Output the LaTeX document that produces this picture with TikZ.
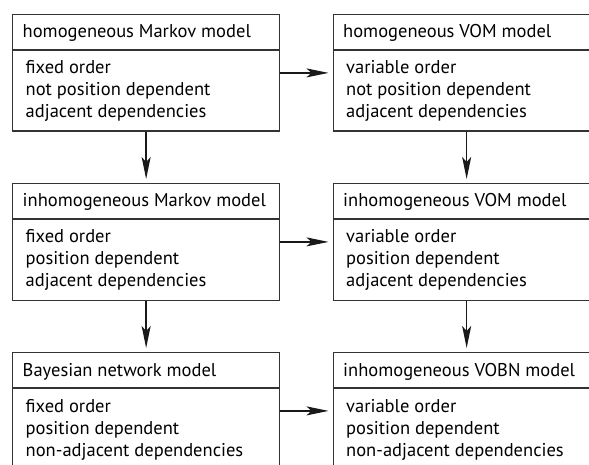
\documentclass[tikz,border=0pt]{standalone}
\usepackage{fontspec}
\setmainfont{PT Sans}
\usetikzlibrary{arrows.meta}
\tikzset{
  modelbox/.style={draw=black!80, line width=1.3pt, rectangle, minimum width=267pt, minimum height=116.5pt, inner sep=0pt, anchor=north west},
  divider/.style={draw=black!80, line width=1.3pt},
  titletext/.style={anchor=base west, inner sep=0pt, font=\fontsize{18.5}{22}\selectfont},
  bodytext/.style={anchor=base west, inner sep=0pt, font=\fontsize{18.5}{22}\selectfont},
  flow/.style={draw=black!90, line width=1.5pt, -{Stealth[length=22pt, width=9pt, inset=5pt]}, shorten >=4pt}
}
\begin{document}
\begin{tikzpicture}[x=1pt,y=-1pt]
\useasboundingbox (0,0) rectangle (589,465);
\clip (0,0) rectangle (589,465);
% boxes
\foreach \nm/\xx/\yy in {hm/12/14, hv/332.5/14, im/12/183, iv/332.5/183, bn/12/352, ib/332.5/352}{
  \node[modelbox] (\nm) at (\xx,\yy) {};
  \draw[divider] ([yshift=-36pt]\nm.north west) -- ([yshift=-36pt]\nm.north east);
}
% titles
\node[titletext] (hmt) at ([xshift=10.5pt,yshift=-24pt]hm.north west) {homogeneous Markov model};
\node[titletext] (hvt) at ([xshift=10.5pt,yshift=-24pt]hv.north west) {homogeneous VOM model};
\node[titletext] (imt) at ([xshift=10.5pt,yshift=-24pt]im.north west) {inhomogeneous Markov model};
\node[titletext] (ivt) at ([xshift=10.5pt,yshift=-24pt]iv.north west) {inhomogeneous VOM model};
\node[titletext] (bnt) at ([xshift=10.5pt,yshift=-24pt]bn.north west) {Bayesian network model};
\node[titletext] (ibt) at ([xshift=10.5pt,yshift=-24pt]ib.north west) {inhomogeneous VOBN model};
% bodies
\node[bodytext] (hm1) at ([xshift=13.5pt,yshift=-60pt]hm.north west) {fixed order};
\node[bodytext] (hm2) at ([xshift=13.5pt,yshift=-82pt]hm.north west) {not position dependent};
\node[bodytext] (hm3) at ([xshift=13.5pt,yshift=-104pt]hm.north west) {adjacent dependencies};
\node[bodytext] (hv1) at ([xshift=13.5pt,yshift=-60pt]hv.north west) {variable order};
\node[bodytext] (hv2) at ([xshift=13.5pt,yshift=-82pt]hv.north west) {not position dependent};
\node[bodytext] (hv3) at ([xshift=13.5pt,yshift=-104pt]hv.north west) {adjacent dependencies};
\node[bodytext] (im1) at ([xshift=13.5pt,yshift=-60pt]im.north west) {fixed order};
\node[bodytext] (im2) at ([xshift=13.5pt,yshift=-82pt]im.north west) {position dependent};
\node[bodytext] (im3) at ([xshift=13.5pt,yshift=-104pt]im.north west) {adjacent dependencies};
\node[bodytext] (iv1) at ([xshift=13.5pt,yshift=-60pt]iv.north west) {variable order};
\node[bodytext] (iv2) at ([xshift=13.5pt,yshift=-82pt]iv.north west) {position dependent};
\node[bodytext] (iv3) at ([xshift=13.5pt,yshift=-104pt]iv.north west) {adjacent dependencies};
\node[bodytext] (bn1) at ([xshift=13.5pt,yshift=-60pt]bn.north west) {fixed order};
\node[bodytext] (bn2) at ([xshift=13.5pt,yshift=-82pt]bn.north west) {position dependent};
\node[bodytext] (bn3) at ([xshift=13.5pt,yshift=-104pt]bn.north west) {non-adjacent dependencies};
\node[bodytext] (ib1) at ([xshift=13.5pt,yshift=-60pt]ib.north west) {variable order};
\node[bodytext] (ib2) at ([xshift=13.5pt,yshift=-82pt]ib.north west) {position dependent};
\node[bodytext] (ib3) at ([xshift=13.5pt,yshift=-104pt]ib.north west) {non-adjacent dependencies};
% arrows
\draw[flow] (hm.east) -- (hv.west);
\draw[flow] (im.east) -- (iv.west);
\draw[flow] (bn.east) -- (ib.west);
\draw[flow] (hm.south) -- (im.north);
\draw[flow] (im.south) -- (bn.north);
\draw[flow] (hv.south) -- (iv.north);
\draw[flow] (iv.south) -- (ib.north);
\end{tikzpicture}
\end{document}
